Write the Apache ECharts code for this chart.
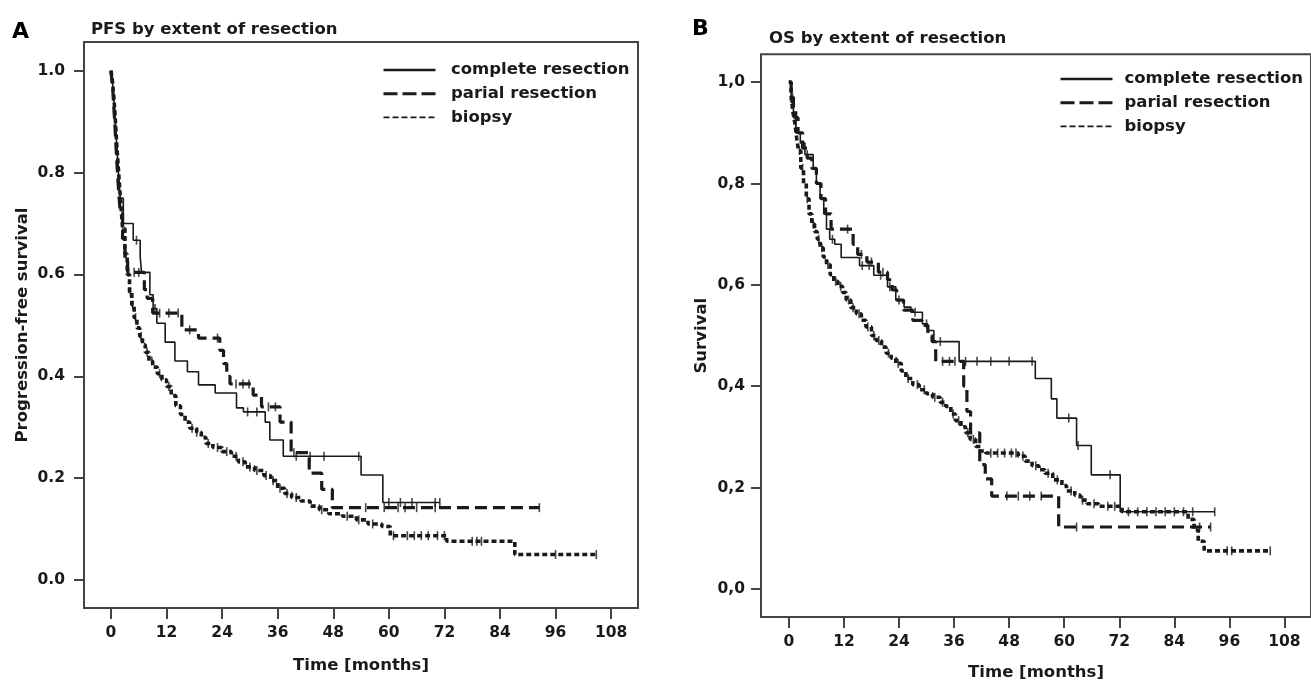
<!DOCTYPE html>
<html>
<head>
<meta charset="utf-8">
<script src="https://cdn.jsdelivr.net/npm/echarts@6.0.0/dist/echarts.min.js"></script>
<style>
html,body{margin:0;padding:0;background:#fff;}
#chart{width:1311px;height:686px;}
</style>
</head>
<body>
<div id="chart"></div>
<script>
// ---------- DATA ----------
const seriesNames = ['complete resection', 'parial resection', 'biopsy'];
const xTicks = [0, 12, 24, 36, 48, 60, 72, 84, 96, 108];
const yTicks = [0, 0.2, 0.4, 0.6, 0.8, 1.0];

// Panel A: PFS (step times in months, survival from that time on)
const pfsCompleteT = [0,0.4,0.8,1.2,1.6,2.0,2.66,4.8,6.3,6.6,8.4,9.1,9.9,11.7,13.8,16.5,18.9,22.5,27.1,28.6,33.3,34.3,37.2,54.0,58.7,71.0];
const pfsCompleteS = [1.0,0.97,0.92,0.86,0.80,0.75,0.70,0.667,0.635,0.604,0.56,0.533,0.504,0.467,0.43,0.409,0.383,0.367,0.338,0.33,0.31,0.275,0.243,0.206,0.152,0.152];
const pfsCompleteCens = [5.5,9.5,29.5,31.5,40,43,46,53.5,60,62.5,65,70,71];

const pfsPartialT = [0,0.4,0.8,1.2,1.6,2.0,2.5,3.0,3.6,7.2,7.8,9.0,15.3,18.9,23.5,24.3,25.0,25.7,30.7,32.5,36.5,38.9,42.8,45.5,47.8,92.5];
const pfsPartialS = [1.0,0.96,0.90,0.83,0.77,0.72,0.67,0.63,0.604,0.57,0.553,0.524,0.491,0.475,0.451,0.425,0.40,0.385,0.363,0.34,0.31,0.25,0.21,0.178,0.142,0.142];
const pfsPartialCens = [3.8,5.0,6.0,10.5,12.5,14.5,17,23,27,28.5,29.8,34,35.5,39.5,55,59,62,63.5,66,70,92.5];

const pfsBiopsyT = [0,0.3,0.6,0.9,1.2,1.5,1.8,2.1,2.5,3.0,3.5,4.0,4.5,5.0,5.6,6.2,6.8,7.4,8.2,9.0,10.0,11.0,12.0,13.0,14.0,15.0,16.0,17.0,18.5,19.5,20.5,22.0,24.0,26.0,27.5,29.0,31.0,33.0,34.5,36.0,37.5,39.0,41.0,43.0,45.0,47.0,50.0,53.0,55.5,58.5,60.3,72.5,87.2,104.8];
const pfsBiopsyS = [1.0,0.98,0.95,0.91,0.86,0.82,0.78,0.74,0.69,0.64,0.60,0.565,0.54,0.515,0.495,0.478,0.462,0.447,0.43,0.418,0.405,0.393,0.38,0.362,0.342,0.325,0.31,0.298,0.29,0.28,0.268,0.26,0.252,0.243,0.232,0.222,0.215,0.205,0.195,0.18,0.17,0.162,0.155,0.145,0.138,0.13,0.125,0.118,0.11,0.105,0.087,0.076,0.05,0.05];
const pfsBiopsyCens = [1.5,2.5,3.2,4.2,4.7,5.3,6.5,7.8,8.8,10.5,12.5,17.5,18.5,21,23,25,27,28.5,30,31.5,33.5,35,36.5,38,40,45.5,51,53.5,56.5,61,64,65.5,67,68.5,70.5,72,78,79,80,96,104.8];

// Panel B: OS
const osCompleteT = [0,0.5,1,1.5,2.5,3.5,5.3,6.0,6.8,7.6,8.2,8.9,10,11.4,15.4,18.5,21.5,23.3,25.1,26.6,29.1,30.2,31.6,37.1,53.7,57.2,58.4,62.7,65.9,72.2,92.8];
const osCompleteS = [1.0,0.96,0.93,0.90,0.88,0.857,0.83,0.80,0.77,0.74,0.71,0.69,0.68,0.654,0.638,0.619,0.596,0.57,0.556,0.546,0.523,0.51,0.488,0.449,0.415,0.375,0.337,0.283,0.225,0.152,0.152];
const osCompleteCens = [4,9.5,16,17.5,20,22,24,27.5,30,33,38.5,41,44,48,53,61,63,70,74,76,78,80,82,84,86,88,92.8];

const osPartialT = [0,0.5,1,1.5,2,3,4,5,6,7,8,9.2,14,15,17,19.5,21.5,22.5,23.5,25,27,29,30.3,31.2,32,38.1,38.8,39.6,41.6,42.8,44.2,58.8,91.9];
const osPartialS = [1.0,0.97,0.95,0.93,0.90,0.87,0.85,0.83,0.80,0.77,0.74,0.71,0.68,0.66,0.645,0.625,0.61,0.59,0.57,0.55,0.53,0.52,0.50,0.488,0.449,0.40,0.35,0.308,0.245,0.217,0.183,0.122,0.122];
const osPartialCens = [12.8,15.8,18,20.5,33.5,35,36.2,47.5,50,52.5,55,62.7,89.5,91.9];

const osBiopsyT = [0,0.5,0.9,1.3,1.7,2.1,2.6,3.2,3.8,4.4,5.0,5.6,6.2,6.8,7.5,8.2,9.0,9.8,10.7,11.7,12.5,13.5,14.7,15.8,16.8,18.0,19.0,20.2,21.2,22.3,23.3,24.5,25.5,27.0,28.4,30.0,31.3,33.0,34.2,35.3,36.3,37.5,38.5,39.5,40.7,41.8,42.9,50.0,51.5,53.0,54.5,55.8,57.5,59.5,60.5,62.3,63.5,65.0,67.5,72.6,87.0,88.3,89.2,90.5,104.9];
const osBiopsyS = [1.0,0.97,0.94,0.92,0.89,0.865,0.83,0.80,0.77,0.74,0.72,0.705,0.69,0.673,0.655,0.64,0.62,0.607,0.597,0.585,0.57,0.555,0.543,0.53,0.517,0.50,0.49,0.477,0.465,0.455,0.445,0.43,0.415,0.403,0.393,0.385,0.378,0.368,0.36,0.345,0.332,0.32,0.308,0.295,0.281,0.272,0.268,0.262,0.252,0.243,0.235,0.228,0.215,0.204,0.193,0.185,0.175,0.168,0.163,0.152,0.137,0.116,0.094,0.075,0.075];
const osBiopsyCens = [0.8,1.5,2.3,3.0,4.0,5.3,6.5,7.2,8.5,10.2,11.3,13,14,15.3,17.2,18.5,19.6,21.7,23.8,26,28,29.5,31.8,33.5,35.8,37,39,40.2,44,45.5,47,48.5,49.5,51,53.8,56.5,58.5,61.5,64,66.5,69.5,71,95.5,96.5,104.9];

// ---------- HELPERS ----------
function pairs(T, S) { return T.map((t, i) => [t, S[i]]); }
function stepAt(T, S, t) {
  let v = S[0];
  for (let i = 0; i < T.length; i++) { if (T[i] <= t) v = S[i]; else break; }
  return v;
}
function cens(T, S, C) { return C.map(t => [t, stepAt(T, S, t)]); }

const INK = '#1a1a1a';
const AXC = '#444';
const FONT = 'DejaVu Sans';
const styles = [
  { width: 1.6, type: 'solid' },
  { width: 3.2, type: [12, 6] },
  { width: 3.6, type: [5, 3] }
];

function curve(name, T, S, idx, k) {
  return {
    name: name, type: 'line', step: 'end', symbol: 'none', silent: true,
    xAxisIndex: idx, yAxisIndex: idx,
    color: INK,
    lineStyle: Object.assign({ color: INK }, styles[k]),
    data: pairs(T, S), z: 3
  };
}
function censSeries(name, T, S, C, idx) {
  return {
    name: name + ' censored', type: 'scatter', silent: true,
    xAxisIndex: idx, yAxisIndex: idx,
    symbol: 'rect', symbolSize: [1.6, 9],
    itemStyle: { color: INK },
    data: cens(T, S, C), z: 4
  };
}

function xAxis(idx, min, max, gap) {
  return {
    type: 'value', gridIndex: idx, min: min, max: max, position: 'bottom',
    name: 'Time [months]', nameLocation: 'middle', nameGap: gap,
    nameTextStyle: { fontFamily: FONT, fontWeight: 'bold', fontSize: 16.5, color: INK },
    axisLine: { show: false, onZero: false },
    axisTick: { show: true, length: 11, customValues: xTicks, lineStyle: { color: AXC, width: 2 } },
    axisLabel: { customValues: xTicks, margin: 17, fontFamily: FONT, fontWeight: 'bold', fontSize: 15.5, color: INK },
    splitLine: { show: false }
  };
}
function yAxis(idx, min, max, name, gap, margin, comma) {
  return {
    type: 'value', gridIndex: idx, min: min, max: max, position: 'left',
    name: name, nameLocation: 'middle', nameGap: gap, nameRotate: 90,
    nameTextStyle: { fontFamily: FONT, fontWeight: 'bold', fontSize: 16.5, color: INK },
    axisLine: { show: false, onZero: false },
    axisTick: { show: true, length: 10, customValues: yTicks, lineStyle: { color: AXC, width: 2 } },
    axisLabel: {
      customValues: yTicks, margin: margin, fontFamily: FONT, fontWeight: 'bold', fontSize: 15.5, color: INK,
      formatter: v => comma ? v.toFixed(1).replace('.', ',') : v.toFixed(1)
    },
    splitLine: { show: false }
  };
}

const hiddenSym = { opacity: 0, color: 'transparent', borderWidth: 0 };
function legend(left, top, pad) {
  return {
    orient: 'vertical', left: left, top: top, padding: 0,
    itemWidth: 52, itemHeight: 14, itemGap: 5.7, selectedMode: false,
    textStyle: { fontFamily: FONT, fontWeight: 'bold', fontSize: 16.5, color: INK, lineHeight: 18, padding: [0, 0, 0, pad] },
    data: [
      { name: seriesNames[0], itemStyle: hiddenSym, lineStyle: { width: 2.5, type: 'solid', color: INK } },
      { name: seriesNames[1], itemStyle: hiddenSym, lineStyle: { width: 3, type: [14, 5], color: INK } },
      { name: seriesNames[2], itemStyle: hiddenSym, lineStyle: { width: 1.6, type: [6, 3], color: INK } }
    ]
  };
}

const chart = echarts.init(document.getElementById('chart'), null, { renderer: 'canvas' });
chart.setOption({
  backgroundColor: '#fff',
  animation: false,
  title: [
    { text: 'A', left: 12, top: 21, padding: 0, textStyle: { fontFamily: FONT, fontWeight: 'bold', fontSize: 22, color: '#000' } },
    { text: 'PFS by extent of resection', left: 91, top: 21, padding: 0, textStyle: { fontFamily: FONT, fontWeight: 'bold', fontSize: 16.5, color: INK } },
    { text: 'B', left: 692, top: 18, padding: 0, textStyle: { fontFamily: FONT, fontWeight: 'bold', fontSize: 22, color: '#000' } },
    { text: 'OS by extent of resection', left: 769, top: 30, padding: 0, textStyle: { fontFamily: FONT, fontWeight: 'bold', fontSize: 16.5, color: INK } }
  ],
  legend: [legend(382, 61, 10.5), legend(1059, 70, 7)],
  grid: [
    { left: 84, top: 42, width: 554, height: 566, show: true, borderColor: AXC, borderWidth: 2, backgroundColor: 'transparent', containLabel: false },
    { left: 761, top: 54.3, width: 553, height: 565.7, show: true, borderColor: AXC, borderWidth: 2, backgroundColor: 'transparent', containLabel: false }
  ],
  xAxis: [xAxis(0, -5.83, 113.8, 49), xAxis(1, -6.07, 113.78, 47)],
  yAxis: [
    yAxis(0, -0.055, 1.0563, 'Progression-free survival', 53, 19, false),
    yAxis(1, -0.0556, 1.055, 'Survival', 51, 16, true)
  ],
  series: [
    curve(seriesNames[0], pfsCompleteT, pfsCompleteS, 0, 0),
    curve(seriesNames[1], pfsPartialT, pfsPartialS, 0, 1),
    curve(seriesNames[2], pfsBiopsyT, pfsBiopsyS, 0, 2),
    censSeries('pfs complete', pfsCompleteT, pfsCompleteS, pfsCompleteCens, 0),
    censSeries('pfs partial', pfsPartialT, pfsPartialS, pfsPartialCens, 0),
    censSeries('pfs biopsy', pfsBiopsyT, pfsBiopsyS, pfsBiopsyCens, 0),
    curve(seriesNames[0], osCompleteT, osCompleteS, 1, 0),
    curve(seriesNames[1], osPartialT, osPartialS, 1, 1),
    curve(seriesNames[2], osBiopsyT, osBiopsyS, 1, 2),
    censSeries('os complete', osCompleteT, osCompleteS, osCompleteCens, 1),
    censSeries('os partial', osPartialT, osPartialS, osPartialCens, 1),
    censSeries('os biopsy', osBiopsyT, osBiopsyS, osBiopsyCens, 1)
  ]
});
</script>
</body>
</html>
